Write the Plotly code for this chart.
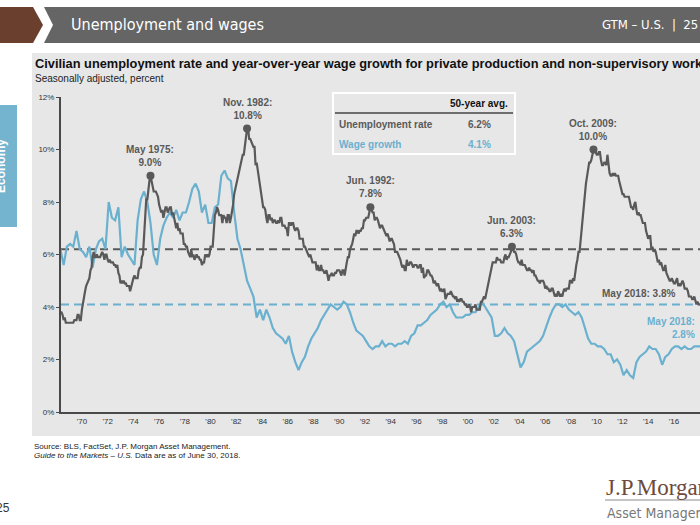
import pandas as pd
import plotly.graph_objects as go

# ---------------- data ----------------
# Civilian unemployment rate, monthly, May 1968 - May 2018 (%)
unemployment = [
    3.8, 3.8, 3.7, 3.5, 3.6, 3.4, 3.4, 3.4,
    3.4, 3.4, 3.4, 3.4, 3.4, 3.5, 3.5, 3.5, 3.7, 3.7, 3.5, 3.5,
    3.9, 4.2, 4.4, 4.6, 4.8, 4.9, 5.0, 5.1, 5.4, 5.5, 5.9, 6.1,
    5.9, 5.9, 6.0, 5.9, 5.9, 5.9, 6.0, 6.1, 6.0, 5.8, 6.0, 6.0,
    5.8, 5.7, 5.8, 5.7, 5.7, 5.7, 5.6, 5.6, 5.5, 5.6, 5.3, 5.2,
    4.9, 5.0, 4.9, 5.0, 4.9, 4.9, 4.8, 4.8, 4.8, 4.6, 4.8, 4.9,
    5.1, 5.2, 5.1, 5.1, 5.1, 5.4, 5.5, 5.5, 5.9, 6.0, 6.6, 7.2,
    8.1, 8.1, 8.6, 8.8, 9.0, 8.8, 8.6, 8.4, 8.4, 8.4, 8.3, 8.2,
    7.9, 7.7, 7.6, 7.7, 7.4, 7.6, 7.8, 7.8, 7.6, 7.7, 7.8, 7.8,
    7.5, 7.6, 7.4, 7.2, 7.0, 7.2, 6.9, 7.0, 6.8, 6.8, 6.8, 6.4,
    6.4, 6.3, 6.3, 6.1, 6.0, 5.9, 6.2, 5.9, 6.0, 5.8, 5.9, 6.0,
    5.9, 5.9, 5.8, 5.8, 5.6, 5.7, 5.7, 6.0, 5.9, 6.0, 5.9, 6.0,
    6.3, 6.3, 6.3, 6.9, 7.5, 7.6, 7.8, 7.7, 7.5, 7.5, 7.5, 7.2,
    7.5, 7.4, 7.4, 7.2, 7.5, 7.5, 7.2, 7.4, 7.6, 7.9, 8.3, 8.5,
    8.6, 8.9, 9.0, 9.3, 9.4, 9.6, 9.8, 9.8, 10.1, 10.4, 10.8, 10.8,
    10.4, 10.4, 10.3, 10.2, 10.1, 10.1, 9.4, 9.5, 9.2, 8.8, 8.5, 8.3,
    8.0, 7.8, 7.8, 7.7, 7.4, 7.2, 7.5, 7.5, 7.3, 7.4, 7.2, 7.3,
    7.3, 7.2, 7.2, 7.3, 7.2, 7.4, 7.4, 7.1, 7.1, 7.1, 7.0, 7.0,
    6.7, 7.2, 7.2, 7.1, 7.2, 7.2, 7.0, 6.9, 7.0, 7.0, 6.9, 6.6,
    6.6, 6.6, 6.6, 6.3, 6.3, 6.2, 6.1, 6.0, 5.9, 6.0, 5.8, 5.7,
    5.7, 5.7, 5.7, 5.4, 5.6, 5.4, 5.4, 5.6, 5.4, 5.4, 5.3, 5.3,
    5.4, 5.2, 5.0, 5.2, 5.2, 5.3, 5.2, 5.2, 5.3, 5.3, 5.4, 5.4,
    5.4, 5.3, 5.2, 5.4, 5.4, 5.2, 5.5, 5.7, 5.9, 5.9, 6.2, 6.3,
    6.4, 6.6, 6.8, 6.7, 6.9, 6.9, 6.8, 6.9, 6.9, 7.0, 7.0, 7.3,
    7.3, 7.4, 7.4, 7.4, 7.6, 7.8, 7.7, 7.6, 7.6, 7.3, 7.4, 7.4,
    7.3, 7.1, 7.0, 7.1, 7.1, 7.0, 6.9, 6.8, 6.7, 6.8, 6.6, 6.5,
    6.6, 6.6, 6.5, 6.4, 6.1, 6.1, 6.1, 6.0, 5.9, 5.8, 5.6, 5.5,
    5.6, 5.4, 5.4, 5.8, 5.6, 5.6, 5.7, 5.7, 5.6, 5.5, 5.6, 5.6,
    5.6, 5.5, 5.5, 5.6, 5.6, 5.3, 5.5, 5.1, 5.2, 5.2, 5.4, 5.4,
    5.3, 5.2, 5.2, 5.1, 4.9, 5.0, 4.9, 4.8, 4.9, 4.7, 4.6, 4.7,
    4.6, 4.6, 4.7, 4.3, 4.4, 4.5, 4.5, 4.5, 4.6, 4.5, 4.4, 4.4,
    4.3, 4.4, 4.2, 4.3, 4.2, 4.3, 4.3, 4.2, 4.2, 4.1, 4.1, 4.0,
    4.0, 4.1, 4.0, 3.8, 4.0, 4.0, 4.0, 4.1, 3.9, 3.9, 3.9, 3.9,
    4.2, 4.2, 4.3, 4.4, 4.3, 4.5, 4.6, 4.9, 5.0, 5.3, 5.5, 5.7,
    5.7, 5.7, 5.7, 5.9, 5.8, 5.8, 5.8, 5.7, 5.7, 5.7, 5.9, 6.0,
    5.8, 5.9, 5.9, 6.0, 6.1, 6.3, 6.2, 6.1, 6.1, 6.0, 5.8, 5.7,
    5.7, 5.6, 5.8, 5.6, 5.6, 5.6, 5.5, 5.4, 5.4, 5.5, 5.4, 5.4,
    5.3, 5.4, 5.2, 5.2, 5.1, 5.0, 5.0, 4.9, 5.0, 5.0, 5.0, 4.9,
    4.7, 4.8, 4.7, 4.7, 4.6, 4.6, 4.7, 4.7, 4.5, 4.4, 4.5, 4.4,
    4.6, 4.5, 4.4, 4.5, 4.4, 4.6, 4.7, 4.6, 4.7, 4.7, 4.7, 5.0,
    5.0, 4.9, 5.1, 5.0, 5.4, 5.6, 5.8, 6.1, 6.1, 6.5, 6.8, 7.3,
    7.8, 8.3, 8.7, 9.0, 9.4, 9.5, 9.5, 9.6, 9.8, 10.0, 9.9, 9.9,
    9.8, 9.8, 9.9, 9.9, 9.6, 9.4, 9.4, 9.5, 9.5, 9.4, 9.8, 9.3,
    9.1, 9.0, 9.0, 9.1, 9.0, 9.1, 9.0, 9.0, 9.0, 8.8, 8.6, 8.5,
    8.3, 8.3, 8.2, 8.2, 8.2, 8.2, 8.2, 8.0, 7.8, 7.8, 7.7, 7.9,
    8.0, 7.7, 7.5, 7.6, 7.5, 7.5, 7.3, 7.2, 7.2, 7.2, 6.9, 6.7,
    6.6, 6.7, 6.7, 6.2, 6.3, 6.1, 6.2, 6.1, 5.9, 5.7, 5.8, 5.6,
    5.7, 5.5, 5.4, 5.4, 5.6, 5.3, 5.2, 5.1, 5.0, 5.0, 5.1, 5.0,
    4.9, 4.9, 5.0, 5.1, 4.8, 4.9, 4.8, 4.9, 5.0, 4.9, 4.7, 4.7,
    4.7, 4.6, 4.4, 4.4, 4.4, 4.3, 4.3, 4.4, 4.2, 4.1, 4.2, 4.1,
    4.1, 4.1, 4.1, 3.9, 3.8,
]
unemp_start = "1968-05-01"

# Wage growth (y/y, %), sampled every 3 months from May 1968 (Feb/May/Aug/Nov)
wage_growth = [
    6.2, 5.6, 6.3,
    6.4, 6.3, 6.9, 6.2,
    6.1, 5.9, 6.3, 5.5,
    6.2, 6.5, 6.6, 6.2,
    8.0, 7.4, 7.3, 7.8,
    5.9, 6.3, 6.0, 5.8,
    5.6, 7.3, 8.1, 8.4,
    8.0, 7.2, 6.0, 5.6,
    6.6, 7.1, 7.4, 7.6,
    7.4, 7.7, 7.3, 7.6,
    7.6, 8.0, 8.5, 8.7,
    8.4, 7.6, 7.9, 7.2,
    7.2, 7.8, 7.9, 9.0,
    9.2, 8.9, 8.8, 7.6,
    6.6, 6.2, 5.6, 5.0,
    4.7, 4.4, 3.6, 3.9,
    3.5, 3.9, 3.6, 3.2,
    3.0, 2.9, 2.8, 2.6,
    2.9, 2.3, 1.9, 1.6,
    1.9, 2.1, 2.5, 2.8,
    3.0, 3.2, 3.5, 3.7,
    3.9, 4.1, 4.0, 3.9,
    4.0, 4.2, 4.1, 3.8,
    3.4, 3.1, 3.0, 2.9,
    2.7, 2.5, 2.4, 2.5,
    2.5, 2.7, 2.5, 2.6,
    2.6, 2.5, 2.6, 2.6,
    2.7, 2.6, 2.9, 3.0,
    3.3, 3.3, 3.4, 3.5,
    3.7, 3.8, 3.9, 4.1,
    4.2, 4.0, 4.1, 3.8,
    3.6, 3.6, 3.6, 3.7,
    3.7, 3.8, 3.8, 4.0,
    4.2, 4.0, 3.8, 3.6,
    2.9, 2.9, 3.0, 3.2,
    3.0, 2.9, 2.7, 2.2,
    1.7, 1.9, 2.3, 2.4,
    2.5, 2.6, 2.7, 2.9,
    3.3, 3.6, 3.9, 4.1,
    4.1, 4.0, 4.1, 3.9,
    3.8, 3.7, 3.8, 3.6,
    3.2, 2.8, 2.6, 2.6,
    2.5, 2.5, 2.4, 2.2,
    2.2, 1.9, 2.0, 1.8,
    1.4, 1.6, 1.4, 1.3,
    1.9, 2.1, 2.2, 2.3,
    2.5, 2.4, 2.4, 2.2,
    1.8, 2.1, 2.2, 2.4,
    2.5, 2.5, 2.4, 2.5,
    2.4, 2.4, 2.5, 2.5,
    2.5, 2.8,
]
wage_start = "1968-05-01"

avg_unemployment = 6.2
avg_wage = 4.1

peak_dates = ["1975-05-01", "1982-11-01", "1992-06-01", "2003-06-01", "2009-10-01"]
peak_names = ["May 1975:", "Nov. 1982:", "Jun. 1992:", "Jun. 2003:", "Oct. 2009:"]

tick_years = list(range(1970, 2019, 2))
tick_labels = ["'" + str(y)[2:] for y in tick_years]
y_ticks = [0, 2, 4, 6, 8, 10, 12]
y_tick_labels = [f"{v}%" for v in y_ticks]

# ---------------- styling ----------------
GRAY_LINE = "#595959"
BLUE_LINE = "#6ab0cf"
PANEL = "#e7e7e7"
FONT = "Liberation Sans, Arial, sans-serif"
NARROW = "Liberation Sans Narrow, DejaVu Sans Condensed, Liberation Sans, sans-serif"

L, R, T, B = 61, 700, 97, 412
W, H = R - L, B - T


def px(x):
    return (x - L) / W


def py(y):
    return (B - y) / H


unemp = pd.Series(unemployment, index=pd.date_range(unemp_start, periods=len(unemployment), freq="MS"))
wage = pd.Series(wage_growth, index=pd.date_range(wage_start, periods=len(wage_growth), freq="3MS"))

fig = go.Figure()
fig.add_trace(go.Scatter(x=wage.index, y=wage.values, mode="lines",
                         line=dict(color=BLUE_LINE, width=2.2), hoverinfo="skip"))
fig.add_trace(go.Scatter(x=unemp.index, y=unemp.values, mode="lines",
                         line=dict(color=GRAY_LINE, width=2.2), hoverinfo="skip"))

pk_x = [pd.Timestamp(d) for d in peak_dates]
pk_y = [unemp[pd.Timestamp(d)] for d in peak_dates]
fig.add_trace(go.Scatter(x=pk_x, y=pk_y, mode="markers",
                         marker=dict(color=GRAY_LINE, size=8), hoverinfo="skip"))

shapes = []
# gray chart panel
shapes.append(dict(type="rect", xref="paper", yref="paper", x0=px(32), x1=px(720),
                   y0=py(436), y1=py(53), fillcolor=PANEL, line=dict(width=0), layer="below"))
# header: brown chevron and gray bar
shapes.append(dict(type="path", xref="paper", yref="paper",
                   path=f"M {px(0)},{py(7)} L {px(33)},{py(7)} L {px(43)},{py(25)} L {px(33)},{py(43)} L {px(0)},{py(43)} Z",
                   fillcolor="#6b3f2e", line=dict(width=0), layer="below"))
shapes.append(dict(type="path", xref="paper", yref="paper",
                   path=f"M {px(44)},{py(7)} L {px(720)},{py(7)} L {px(720)},{py(43)} L {px(44)},{py(43)} L {px(53)},{py(25)} Z",
                   fillcolor="#656565", line=dict(width=0), layer="below"))
# side tab
shapes.append(dict(type="rect", xref="paper", yref="paper", x0=px(-2), x1=px(17),
                   y0=py(227), y1=py(105), fillcolor="#74b4cf", line=dict(width=0), layer="below"))
# average lines
shapes.append(dict(type="line", xref="paper", yref="y", x0=0, x1=1, y0=avg_unemployment, y1=avg_unemployment,
                   line=dict(color=GRAY_LINE, width=2, dash="8px,5px"), layer="below"))
shapes.append(dict(type="line", xref="paper", yref="y", x0=0, x1=1, y0=avg_wage, y1=avg_wage,
                   line=dict(color=BLUE_LINE, width=2, dash="8px,5px"), layer="below"))
# legend table box
shapes.append(dict(type="rect", xref="paper", yref="paper", x0=px(333), x1=px(515),
                   y0=py(154), y1=py(93), line=dict(color="white", width=2), fillcolor="rgba(0,0,0,0)"))
shapes.append(dict(type="line", xref="paper", yref="paper", x0=px(335), x1=px(513),
                   y0=py(113), y1=py(113), line=dict(color="#444444", width=1.5)))
# logo rule
shapes.append(dict(type="line", xref="paper", yref="paper", x0=px(605), x1=px(720),
                   y0=py(500), y1=py(500), line=dict(color="#8c8c8c", width=1)))

ann = []


def text(x, y, s, size=9, color="#333333", family=FONT, xanchor="left", yanchor="middle", **kw):
    ann.append(dict(x=px(x), y=py(y), xref="paper", yref="paper", text=s, showarrow=False,
                    xanchor=xanchor, yanchor=yanchor, font=dict(size=size, color=color, family=family), **kw))


text(69, 25, "Unemployment and wages", size=16, color="white", family=NARROW)
text(700, 25, "GTM – U.S.  |  25", size=13, color="white", family=NARROW, xanchor="right")
text(33, 64, "<b>Civilian unemployment rate and year-over-year wage growth for private production and non-supervisory workers</b>",
     size=12.8, color="#111111")
text(33, 78, "Seasonally adjusted, percent", size=10, color="#222222")
text(1, 166, "<b>Economy</b>", size=12, color="white", xanchor="center", textangle=-90)

# legend table
text(510, 103, "<b>50-year avg.</b>", size=10, color="#111111", xanchor="right")
text(337, 124, "<b>Unemployment rate</b>", size=10, color="#5a5a5a")
text(479, 124, f"<b>{avg_unemployment:.1f}%</b>", size=10, color="#5a5a5a", xanchor="center")
text(337, 144, "<b>Wage growth</b>", size=10, color=BLUE_LINE)
text(479, 144, f"<b>{avg_wage:.1f}%</b>", size=10, color=BLUE_LINE, xanchor="center")

# footer
text(32, 446, "Source: BLS, FactSet, J.P. Morgan Asset Management.", size=8, color="#222222")
text(32, 455, "<i>Guide to the Markets – U.S.</i> Data are as of June 30, 2018.", size=8, color="#222222")
text(12, 508, "25", size=12, color="#333333", xanchor="right")
text(604, 487, "J.P.Morgan", size=23, color="#6d4a3a", family="Liberation Serif, Times New Roman, serif")
text(605, 513, "Asset Management", size=14, color="#777777", family=NARROW)

# peak labels (data anchored)
for d, name, v in zip(pk_x, peak_names, pk_y):
    ann.append(dict(x=d, y=v, xref="x", yref="y", text=f"<b>{name}<br>{v:.1f}%</b>", showarrow=False,
                    xanchor="center", yanchor="bottom", yshift=6,
                    font=dict(size=10, color=GRAY_LINE, family=FONT)))

# latest readings: the last points sit just past the right edge, so anchor to the plot's right edge
last_u = unemp.values[-1]
last_w = wage.values[-1]
ann.append(dict(x=1, y=last_u, xref="paper", yref="y", text=f"<b>May 2018: {last_u:.1f}%</b>",
                showarrow=False, xanchor="right", yanchor="middle", xshift=-23, yshift=19,
                font=dict(size=10, color=GRAY_LINE, family=FONT)))
ann.append(dict(x=1, y=last_w, xref="paper", yref="y", text=f"<b>May 2018:<br>{last_w:.1f}%</b>",
                showarrow=False, xanchor="right", yanchor="middle", xshift=-3, yshift=11, align="right",
                font=dict(size=10, color=BLUE_LINE, family=FONT)))

fig.update_layout(
    width=700, height=525, autosize=False,
    margin=dict(l=L, r=700 - R, t=T, b=525 - B, pad=0),
    paper_bgcolor="white", plot_bgcolor="rgba(0,0,0,0)",
    showlegend=False, shapes=shapes, annotations=ann,
    xaxis=dict(type="date", range=["1968-05-18", "2018-01-10"], tickvals=[pd.Timestamp(f"{y}-01-01") for y in tick_years],
               ticktext=tick_labels, showgrid=False, zeroline=False, showline=True, linecolor="#4a4a4a",
               linewidth=2, ticks="", tickfont=dict(size=8, color="#333333", family=FONT)),
    yaxis=dict(range=[0, 12], tickvals=y_ticks, ticktext=y_tick_labels, showgrid=False, zeroline=False,
               showline=True, linecolor="#4a4a4a", linewidth=2, ticks="outside", ticklen=3, tickwidth=1,
               tickcolor="#4a4a4a", tickfont=dict(size=8, color="#333333", family=FONT)),
)

fig.write_html("out.html", config={"displayModeBar": False},
               post_script="document.body.style.margin='0px';")
